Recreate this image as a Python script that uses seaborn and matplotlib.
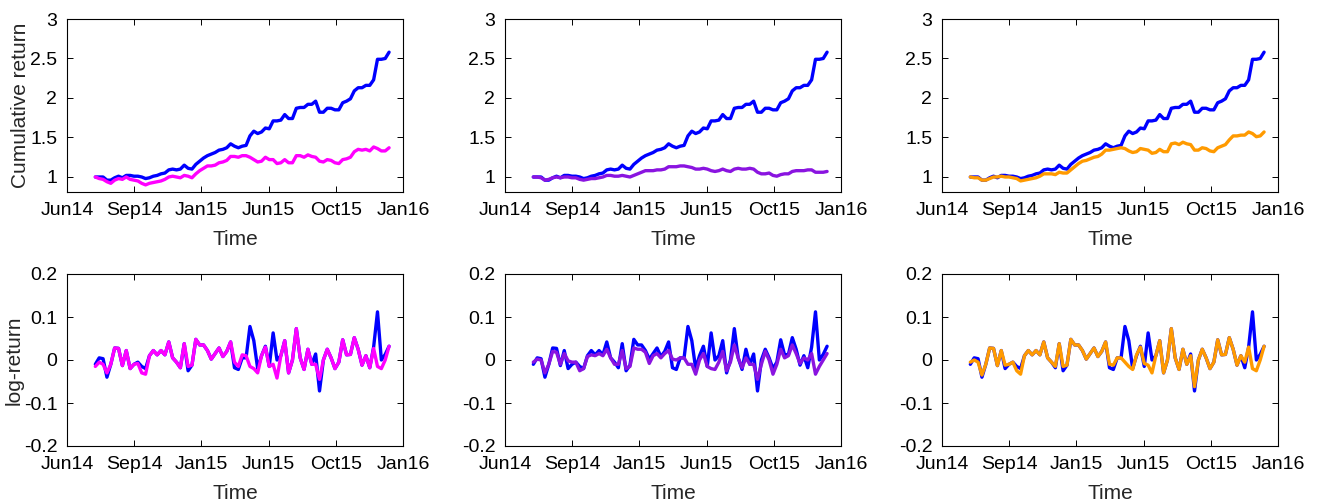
import numpy as np
import pandas as pd
import matplotlib
matplotlib.use("Agg")
import matplotlib.pyplot as plt
import seaborn as sns

# ---------------- data (weekly) ----------------
xtick_labels = ["Jun14", "Sep14", "Jan15", "Jun15", "Oct15", "Jan16"]

cum_blue = [1.0, 1.0, 1.0, 0.96, 0.96, 0.99, 1.01, 0.99, 1.02, 1.02,
            1.01, 1.01, 1.0, 0.98, 0.99, 1.01, 1.02, 1.04, 1.05, 1.09,
            1.10, 1.09, 1.10, 1.15, 1.11, 1.10, 1.16, 1.20, 1.24, 1.27,
            1.29, 1.31, 1.34, 1.35, 1.37, 1.42, 1.39, 1.37, 1.39, 1.40,
            1.52, 1.58, 1.55, 1.57, 1.62, 1.61, 1.71, 1.71, 1.72, 1.79,
            1.74, 1.74, 1.87, 1.88, 1.88, 1.92, 1.92, 1.96, 1.82, 1.82,
            1.87, 1.87, 1.85, 1.85, 1.94, 1.96, 1.99, 2.09, 2.13, 2.13,
            2.16, 2.16, 2.23, 2.49, 2.49, 2.50, 2.58]

cum_magenta = [1.0, 0.98, 0.97, 0.94, 0.92, 0.96, 0.98, 0.97, 1.0, 0.97,
               0.96, 0.95, 0.92, 0.90, 0.92, 0.93, 0.94, 0.95, 0.97, 1.0,
               1.01, 1.0, 0.99, 1.02, 1.01, 0.99, 1.04, 1.08, 1.11, 1.14,
               1.14, 1.15, 1.18, 1.19, 1.21, 1.26, 1.26, 1.25, 1.27, 1.27,
               1.25, 1.22, 1.19, 1.20, 1.25, 1.22, 1.22, 1.17, 1.18, 1.22,
               1.18, 1.18, 1.27, 1.27, 1.25, 1.28, 1.26, 1.25, 1.20, 1.19,
               1.22, 1.21, 1.18, 1.17, 1.22, 1.23, 1.25, 1.32, 1.35, 1.34,
               1.35, 1.33, 1.38, 1.36, 1.33, 1.33, 1.37]

cum_purple = [1.0, 1.0, 0.99, 0.96, 0.97, 0.99, 1.0, 0.99, 1.0, 1.0,
              0.99, 0.99, 0.97, 0.96, 0.97, 0.98, 0.98, 0.99, 1.0, 1.02,
              1.02, 1.01, 1.01, 1.02, 1.01, 1.0, 1.02, 1.04, 1.06, 1.08,
              1.08, 1.08, 1.09, 1.09, 1.10, 1.13, 1.13, 1.13, 1.14, 1.14,
              1.13, 1.12, 1.10, 1.10, 1.11, 1.10, 1.08, 1.07, 1.08, 1.10,
              1.08, 1.07, 1.10, 1.11, 1.10, 1.10, 1.11, 1.10, 1.06, 1.04,
              1.04, 1.05, 1.02, 1.01, 1.03, 1.04, 1.04, 1.07, 1.08, 1.08,
              1.08, 1.09, 1.09, 1.06, 1.06, 1.06, 1.07]

cum_orange = [1.0, 0.99, 0.99, 0.96, 0.96, 0.98, 1.0, 1.0, 1.01, 1.0,
              1.0, 0.99, 0.98, 0.95, 0.96, 0.97, 0.98, 0.99, 1.01, 1.04,
              1.04, 1.04, 1.03, 1.06, 1.05, 1.05, 1.09, 1.13, 1.17, 1.20,
              1.21, 1.23, 1.25, 1.26, 1.29, 1.34, 1.34, 1.35, 1.36, 1.37,
              1.36, 1.33, 1.31, 1.32, 1.36, 1.35, 1.34, 1.30, 1.31, 1.35,
              1.32, 1.32, 1.42, 1.43, 1.41, 1.44, 1.42, 1.41, 1.34, 1.34,
              1.37, 1.36, 1.33, 1.32, 1.37, 1.39, 1.41, 1.47, 1.52, 1.52,
              1.53, 1.53, 1.57, 1.55, 1.51, 1.52, 1.57]

ret_blue = [-0.01, 0.005, 0.003, -0.04, -0.01, 0.028, 0.027, -0.013, 0.022, -0.02,
            -0.01, -0.005, -0.015, -0.02, 0.01, 0.022, 0.012, 0.022, 0.012, 0.042,
            0.005, -0.005, -0.018, 0.038, -0.025, -0.012, 0.048, 0.035, 0.035, 0.022,
            0.002, 0.015, 0.028, 0.008, 0.02, 0.042, -0.018, -0.022, 0.005, 0.005,
            0.078, 0.045, -0.02, 0.01, 0.032, -0.015, 0.063, 0.0, 0.01, 0.045,
            -0.03, 0.0, 0.073, 0.005, -0.022, 0.025, -0.01, 0.014, -0.072, 0.0,
            0.025, 0.005, -0.02, -0.005, 0.047, 0.012, 0.013, 0.052, 0.025, -0.012,
            0.01, -0.018, 0.03, 0.112, 0.0, 0.013, 0.032]

ret_magenta = [-0.015, -0.005, -0.01, -0.03, -0.01, 0.028, 0.027, -0.013, 0.022, -0.02,
               -0.01, -0.008, -0.03, -0.033, 0.01, 0.022, 0.012, 0.022, 0.012, 0.042,
               0.005, -0.005, -0.018, 0.038, -0.015, -0.012, 0.048, 0.035, 0.035, 0.022,
               0.002, 0.015, 0.028, 0.008, 0.02, 0.042, -0.005, -0.015, 0.012, 0.01,
               -0.015, -0.02, -0.03, 0.01, 0.03, -0.015, -0.01, -0.042, 0.01, 0.045,
               -0.03, 0.0, 0.073, 0.005, -0.022, 0.025, -0.01, -0.01, -0.045, 0.0,
               0.025, 0.005, -0.02, -0.005, 0.047, 0.012, 0.013, 0.052, 0.025, -0.012,
               0.01, -0.018, 0.027, -0.015, -0.02, 0.0, 0.032]

ret_purple = [-0.005, 0.002, 0.0, -0.03, -0.01, 0.02, 0.018, -0.01, 0.015, -0.002,
              -0.005, -0.005, -0.025, -0.02, 0.008, 0.012, 0.01, 0.015, 0.01, 0.025,
              0.005, -0.01, -0.01, 0.022, -0.02, -0.015, 0.028, 0.025, 0.025, 0.018,
              -0.008, 0.01, 0.015, 0.005, 0.015, 0.022, 0.002, 0.0, 0.005, 0.005,
              -0.01, -0.01, -0.033, 0.0, 0.015, -0.015, -0.02, -0.022, -0.005, 0.02,
              -0.025, -0.005, 0.035, 0.005, -0.018, 0.005, -0.01, -0.01, -0.045, -0.01,
              0.02, 0.0, -0.033, -0.01, 0.025, 0.005, 0.01, 0.035, 0.015, -0.008,
              0.005, 0.0, 0.015, -0.033, -0.015, 0.0, 0.015]

ret_orange = [-0.005, 0.0, -0.005, -0.035, -0.01, 0.028, 0.027, -0.013, 0.022, -0.012,
              -0.01, -0.005, -0.025, -0.033, 0.01, 0.022, 0.012, 0.022, 0.012, 0.042,
              0.005, -0.005, -0.015, 0.038, -0.015, -0.012, 0.048, 0.035, 0.035, 0.022,
              0.002, 0.015, 0.028, 0.008, 0.02, 0.042, -0.01, -0.012, 0.005, 0.005,
              -0.005, -0.015, -0.022, 0.012, 0.03, -0.008, -0.012, -0.03, 0.01, 0.045,
              -0.03, 0.0, 0.073, 0.005, -0.022, 0.025, -0.01, 0.01, -0.062, 0.0,
              0.025, 0.005, -0.02, -0.005, 0.047, 0.012, 0.013, 0.052, 0.025, -0.012,
              0.01, -0.005, 0.03, -0.02, -0.025, 0.0, 0.032]

week = np.arange(len(ret_blue))

BLUE = "#0000FF"
others = [("magenta", "#FF00FF", cum_magenta, ret_magenta),
          ("purple", "#8A14E0", cum_purple, ret_purple),
          ("orange", "#FF9A00", cum_orange, ret_orange)]

# ---------------- style ----------------
sns.set_style("white")
plt.rcParams["font.family"] = ["Liberation Sans", "DejaVu Sans"]
plt.rcParams.update({
    "xtick.direction": "in", "ytick.direction": "in",
    "xtick.top": True, "ytick.right": True,
    "xtick.bottom": True, "ytick.left": True,
    "xtick.major.size": 4, "ytick.major.size": 4,
    "xtick.major.width": 0.7, "ytick.major.width": 0.7,
    "axes.edgecolor": "black", "axes.linewidth": 0.8,
    "xtick.color": "black", "ytick.color": "black",
    "xtick.labelsize": 14, "ytick.labelsize": 14,
})

fig = plt.figure(figsize=(13.17, 5.01), dpi=100)
W, H = 1317, 501
lefts = [67, 505, 942]
width = 336
top_row = (19, 192)
bot_row = (274, 446)

xlim = (-7.33, 79.6)
xticks = np.linspace(xlim[0], xlim[1], len(xtick_labels))

for col, (name, color, cum_o, ret_o) in enumerate(others):
    for row, (ytop, ybot) in enumerate([top_row, bot_row]):
        ax = fig.add_axes([lefts[col] / W, 1 - ybot / H, width / W, (ybot - ytop) / H])
        if row == 0:
            yb, yo = cum_blue, cum_o
        else:
            yb, yo = ret_blue, ret_o
        sns.lineplot(x=week, y=yb, ax=ax, color=BLUE, linewidth=2.4)
        sns.lineplot(x=week, y=yo, ax=ax, color=color, linewidth=2.4)
        ax.set_xlim(*xlim)
        ax.set_xticks(xticks)
        ax.set_xticklabels(xtick_labels)
        if row == 0:
            ax.set_ylim(0.81, 3)
            ax.set_yticks([1, 1.5, 2, 2.5, 3])
            ax.set_yticklabels(["1", "1.5", "2", "2.5", "3"])
        else:
            ax.set_ylim(-0.2, 0.2)
            ax.set_yticks([-0.2, -0.1, 0, 0.1, 0.2])
            ax.set_yticklabels(["-0.2", "-0.1", "0", "0.1", "0.2"])
        ax.set_xlabel("Time", fontsize=15, labelpad=8)
        if col == 0:
            ax.set_ylabel("Cumulative return" if row == 0 else "log-return",
                          fontsize=15, labelpad=0)
        else:
            ax.set_ylabel("")
        for s in ax.spines.values():
            s.set_visible(True)
            s.set_color("black")
        ax.tick_params(axis="x", which="major", pad=7)
        ax.tick_params(axis="y", which="major", pad=7)

fig.savefig("out.png", dpi=100)
